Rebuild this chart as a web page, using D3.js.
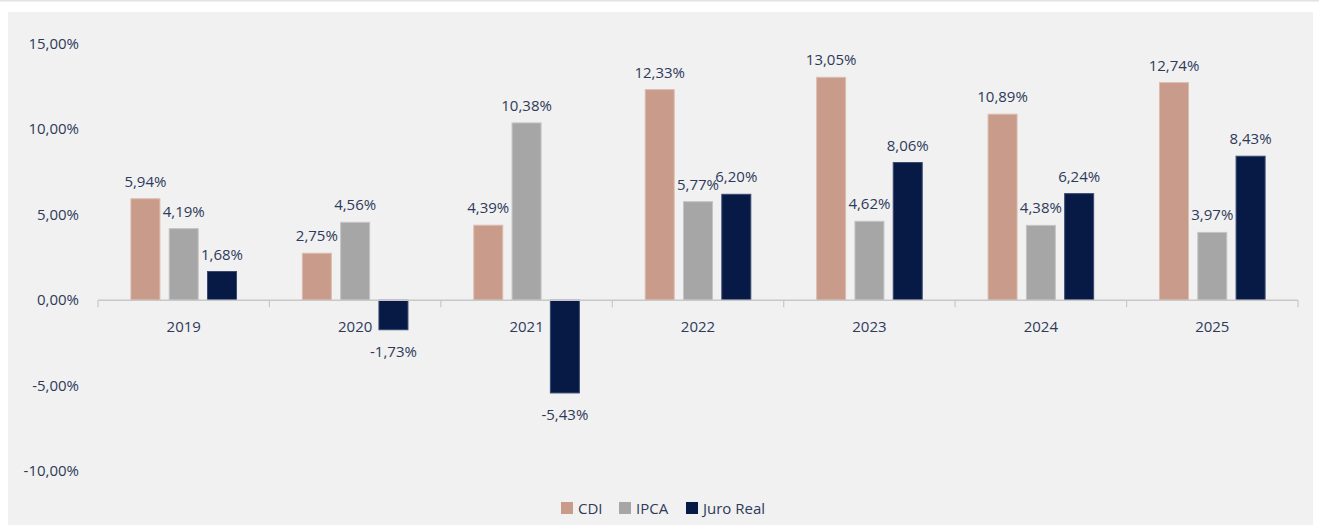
<!DOCTYPE html>
<html>
<head>
<meta charset="utf-8">
<script src="https://cdn.jsdelivr.net/npm/d3@7"></script>
<style>
  html, body { margin: 0; padding: 0; background: #ffffff; }
  svg { display: block; }
  text { font-family: "Open Sans", "Noto Sans", sans-serif; fill: #2e3a5a; }
</style>
</head>
<body>
<svg id="chart" width="1319" height="525"></svg>
<script>
const years = ["2019", "2020", "2021", "2022", "2023", "2024", "2025"];
const seriesNames = ["CDI", "IPCA", "Juro Real"];
const cdi = [5.94, 2.75, 4.39, 12.33, 13.05, 10.89, 12.74];
const ipca = [4.19, 4.56, 10.38, 5.77, 4.62, 4.38, 3.97];
const juroReal = [1.68, -1.73, -5.43, 6.20, 8.06, 6.24, 8.43];
const yTicks = [-10, -5, 0, 5, 10, 15];
const colors = ["#c99b8b", "#a6a6a6", "#061a45"];
const strokes = ["#dcbcb0", "#c4c4c4", "#3a4a70"];

const seriesValues = [cdi, ipca, juroReal];
const fmt = v => v.toFixed(2).replace(".", ",") + "%";

const svg = d3.select("#chart");
svg.append("rect").attr("x", 0).attr("y", 0).attr("width", 1319).attr("height", 1.5).attr("fill", "#e2e2e2");
svg.append("rect").attr("x", 8).attr("y", 12).attr("width", 1305).attr("height", 513).attr("fill", "#f1f1f1");

const x0 = 98, x1 = 1298;
const y = d3.scaleLinear().domain([-10, 15]).range([471, 44]);
const x = d3.scaleBand().domain(years).range([x0, x1]).paddingInner(0).paddingOuter(0);
const barW = 30, step = 38.3;

// y axis labels
const yAxis = d3.axisLeft(y).tickValues(yTicks).tickSize(0).tickPadding(0).tickFormat(fmt);
const gy = svg.append("g").attr("transform", "translate(79,0)").call(yAxis);
gy.select(".domain").remove();
gy.selectAll("text").style("font-size", "15px").style("font-family", "\"Open Sans\", sans-serif").attr("fill", "#2e3a5a").attr("dy", "0.3em");

// bars
const bars = svg.append("g");
years.forEach((yr, i) => {
  const cx = x(yr) + x.bandwidth() / 2;
  seriesValues.forEach((vals, s) => {
    const v = vals[i];
    const bx = cx + (s - 1) * step - barW / 2;
    const top = y(Math.max(0, v)), bot = y(Math.min(0, v));
    bars.append("rect")
      .attr("x", bx + 0.5).attr("y", top).attr("width", barW - 1).attr("height", bot - top)
      .attr("fill", colors[s]).attr("stroke", strokes[s]).attr("stroke-width", 1);
    bars.append("text")
      .attr("x", bx + barW / 2)
      .attr("y", v >= 0 ? y(v) - 12 : y(v) + 27)
      .attr("text-anchor", "middle")
      .style("font-size", "15px")
      .text(fmt(v));
  });
});

// x axis
const xAxis = d3.axisBottom(x).tickSize(0).tickPadding(0);
const gx = svg.append("g").attr("transform", `translate(0,${y(0)})`).call(xAxis);
gx.select(".domain").attr("stroke", "#c8c8c8").attr("stroke-width", 1.5).attr("d", `M${x0},0H${x1}`);
gx.selectAll("text").style("font-size", "15px").style("font-family", "\"Open Sans\", sans-serif").attr("fill", "#2e3a5a").attr("dy", "2.15em");
const boundaries = years.map(yr => x(yr)).concat([x1]);
gx.selectAll("line.sep").data(boundaries).enter().append("line").attr("class", "sep")
  .attr("x1", d => d).attr("x2", d => d).attr("y1", 0).attr("y2", 7)
  .attr("stroke", "#c8c8c8").attr("stroke-width", 1.2);

// legend
const legendX = [561, 619, 686];
const lg = svg.append("g");
seriesNames.forEach((n, s) => {
  lg.append("rect").attr("x", legendX[s]).attr("y", 502).attr("width", 12).attr("height", 12).attr("fill", colors[s]);
  lg.append("text").attr("x", legendX[s] + 17).attr("y", 513.5).style("font-size", "15px").text(n);
});
</script>
</body>
</html>
